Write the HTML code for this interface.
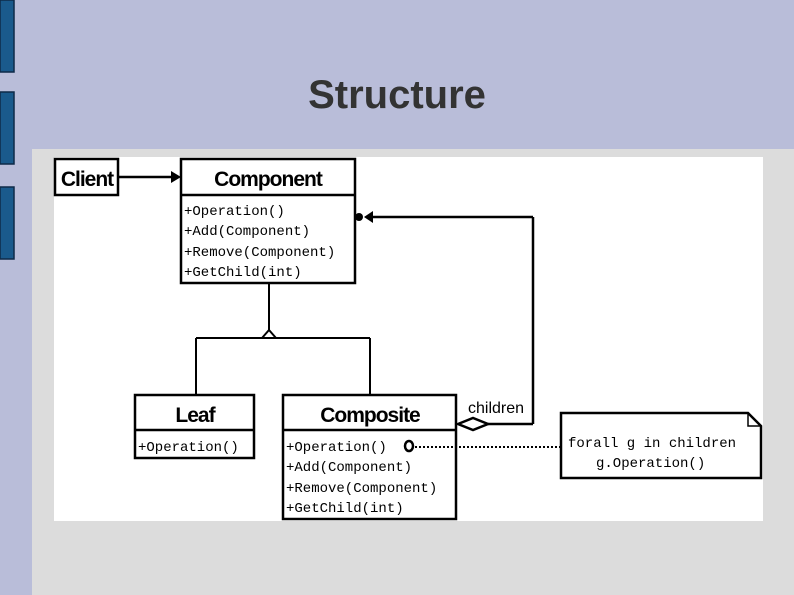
<!DOCTYPE html>
<html><head><meta charset="utf-8"><style>
html,body{margin:0;padding:0;width:794px;height:595px;overflow:hidden;background:#b9bdd9;}
</style></head><body>
<svg width="794" height="595" xmlns="http://www.w3.org/2000/svg" style="position:absolute;left:0;top:0">
<rect x="0" y="0" width="794" height="595" fill="#b9bdd9"/>
<rect x="0" y="0" width="14" height="72" fill="#1a5a8c" stroke="#0e2a48" stroke-width="1.5"/>
<rect x="0" y="92" width="14" height="72" fill="#1a5a8c" stroke="#0e2a48" stroke-width="1.5"/>
<rect x="0" y="187" width="14" height="72" fill="#1a5a8c" stroke="#0e2a48" stroke-width="1.5"/>
<rect x="32" y="149" width="762" height="446" fill="#dcdcdc"/>
<rect x="54" y="157" width="709" height="364" fill="#ffffff"/>
<text x="397" y="108" text-anchor="middle" font-family="Liberation Sans, sans-serif" font-weight="bold" font-size="40" fill="#333">Structure</text>
<g stroke="#000" stroke-width="2.5" fill="none">
<rect x="55" y="159" width="63" height="36" fill="#fff"/>
<rect x="181" y="159" width="174" height="124" fill="#fff"/>
<line x1="181" y1="195" x2="355" y2="195"/>
<rect x="135" y="395" width="119" height="63" fill="#fff"/>
<line x1="135" y1="430" x2="254" y2="430"/>
<rect x="283" y="395" width="173" height="124" fill="#fff"/>
<line x1="283" y1="430" x2="456" y2="430"/>
<line x1="118" y1="177" x2="172" y2="177"/>
<line x1="533" y1="424" x2="533" y2="217"/>
<line x1="533" y1="217" x2="368" y2="217"/>
<line x1="488" y1="424" x2="533" y2="424"/>
<path d="M561 413 H748 L761 426 V478 H561 Z" fill="#fff"/>
<path d="M748 413 V426 H761" stroke-width="1.5"/>
</g>
<g stroke="#000" stroke-width="2" fill="none">
<line x1="269" y1="283" x2="269" y2="331"/>
<path d="M262 338 L269 330 L276 338"/>
<line x1="196" y1="338" x2="370" y2="338"/>
<line x1="196" y1="338" x2="196" y2="395"/>
<line x1="370" y1="338" x2="370" y2="395"/>
<path d="M458 424 L473 418 L488 424 L473 430 Z" fill="#fff" stroke-width="2.5"/>
<ellipse cx="409" cy="446" rx="4" ry="5" stroke-width="2.5"/>
<line x1="415" y1="447" x2="560" y2="447" stroke-dasharray="2,2" stroke-width="2"/>
</g>
<path d="M181 177 L171 171 L171 183 Z" fill="#000"/>
<path d="M364 217 L373 211 L373 223 Z" fill="#000"/>
<circle cx="359" cy="217" r="4" fill="#000"/>
<g font-family="Liberation Sans, sans-serif" font-weight="bold" font-size="21" text-anchor="middle" fill="#000" style="letter-spacing:-1px">
<text x="87" y="186">Client</text>
<text x="268" y="186">Component</text>
<text x="195" y="422">Leaf</text>
<text x="370" y="422">Composite</text>
</g>
<g font-family="Liberation Mono, monospace" font-size="14" fill="#000">
<text x="184" y="215">+Operation()</text>
<text x="184" y="235">+Add(Component)</text>
<text x="184" y="256">+Remove(Component)</text>
<text x="184" y="276">+GetChild(int)</text>
<text x="138" y="451">+Operation()</text>
<text x="286" y="451">+Operation()</text>
<text x="286" y="471">+Add(Component)</text>
<text x="286" y="492">+Remove(Component)</text>
<text x="286" y="512">+GetChild(int)</text>
<text x="568" y="447">forall g in children</text>
<text x="596" y="467">g.Operation()</text>
</g>
<text x="468" y="413" font-family="Liberation Sans, sans-serif" font-size="16" fill="#000">children</text>
</svg>
</body></html>
